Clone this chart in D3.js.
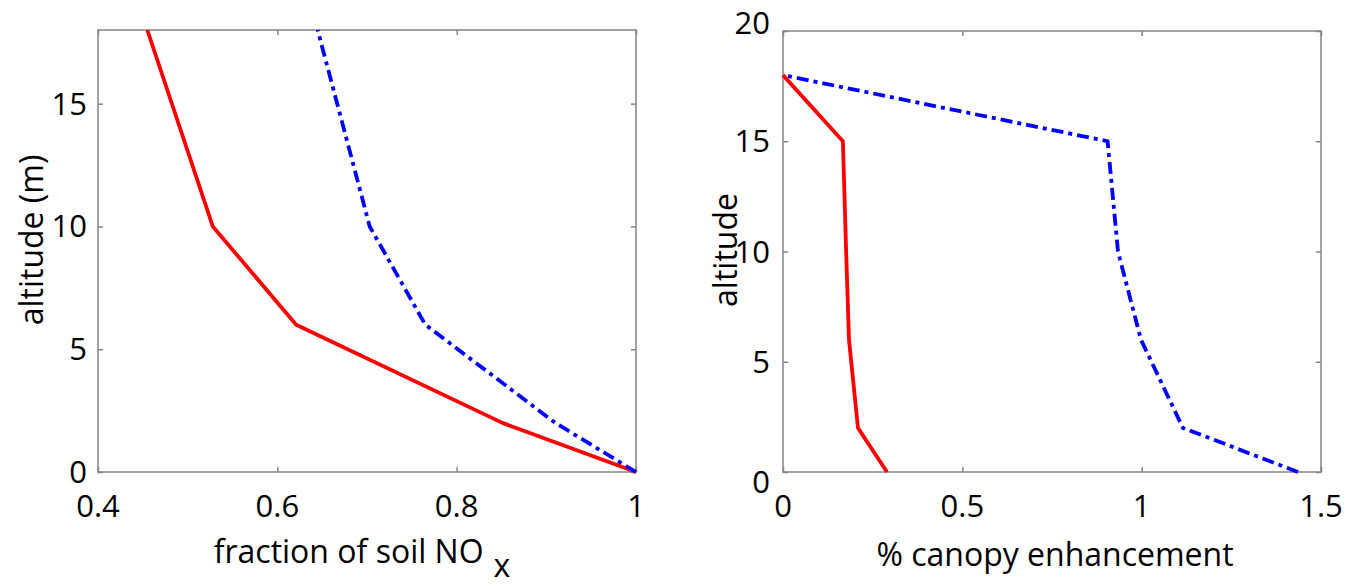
<!DOCTYPE html>
<html><head><meta charset="utf-8">
<script src="https://cdn.jsdelivr.net/npm/d3@7"></script>
<style>body{margin:0;background:#fff}svg{display:block}text{font-family:"Open Sans",sans-serif}</style>
</head><body>
<svg id="c" width="1364" height="587"></svg>
<script>
// Left panel: fraction of soil NOx vs altitude
const leftAltitude = [0, 2, 6, 10, 18];
const leftRed  = [1.0, 0.851, 0.621, 0.528, 0.455];
const leftBlue = [1.0, 0.910, 0.765, 0.703, 0.645];
const leftXTicks = [0.4, 0.6, 0.8, 1];
const leftYTicks = [0, 5, 10, 15];
// Right panel: % canopy enhancement vs altitude
const rightAltitude = [0, 2, 6, 10, 15, 18];
const rightRed  = [0.29, 0.209, 0.184, 0.176, 0.167, 0];
const rightBlue = [1.436, 1.115, 0.998, 0.934, 0.905, 0];
const rightXTicks = [0, 0.5, 1, 1.5];
const rightYTicks = [0, 5, 10, 15, 20];

const svg = d3.select("#c");
const TICK = 31, LAB = 32;

function panel(o){
  const x = d3.scaleLinear().domain(o.xd).range([o.x0, o.x1]);
  const y = d3.scaleLinear().domain(o.yd).range([o.y0, o.y1]);
  const g = svg.append("g");
  g.append("rect").attr("x", o.x0).attr("y", o.y1).attr("width", o.x1-o.x0).attr("height", o.y0-o.y1)
    .attr("fill","none").attr("stroke","#858585").attr("stroke-width",1.5);
  const axes = [
    [d3.axisBottom(x).tickValues(o.xt).tickSize(-5).tickFormat(""), `translate(0,${o.y0})`],
    [d3.axisTop(x).tickValues(o.xt).tickSize(-5).tickFormat(""), `translate(0,${o.y1})`],
    [d3.axisLeft(y).tickValues(o.yt).tickSize(-5).tickFormat(""), `translate(${o.x0},0)`],
    [d3.axisRight(y).tickValues(o.yt).tickSize(-5).tickFormat(""), `translate(${o.x1},0)`]
  ];
  axes.forEach(([a,t])=>{
    const ag = g.append("g").attr("transform",t).call(a);
    ag.select(".domain").remove();
    ag.selectAll("line").attr("stroke","#858585").attr("stroke-width",1.5);
  });
  g.selectAll(".xl").data(o.xt).join("text").attr("x",d=>x(d)).attr("y",o.y0+45)
    .attr("text-anchor","middle").attr("font-size",TICK).attr("fill","#000").text(d=>d3.format("~g")(d));
  g.selectAll(".yl").data(o.yt).join("text").attr("x",o.x0-o.ylOff).attr("y",d=>y(d)+11+(o.yShift?o.yShift(d):0))
    .attr("text-anchor","end").attr("font-size",TICK).attr("fill","#000").text(d=>d);
  const line = (xs)=>d3.line().x((d,i)=>x(xs[i])).y(d=>y(d));
  g.append("path").datum(o.alt).attr("d", line(o.red)).attr("fill","none")
    .attr("stroke","#ff0000").attr("stroke-width",3.8).attr("stroke-linejoin","round");
  g.append("path").datum(o.alt).attr("d", line(o.blue)).attr("fill","none")
    .attr("stroke","#0000ff").attr("stroke-width",3.8).attr("stroke-dasharray","12,5,4,5");
  return {x,y,g};
}

panel({xd:[0.4,1], yd:[0,18], x0:98, x1:636, y0:472, y1:30, xt:leftXTicks, yt:leftYTicks,
  alt:leftAltitude, red:leftRed, blue:leftBlue, ylOff:11});
panel({xd:[0,1.5], yd:[0,20], x0:783, x1:1321, y0:472, y1:31, xt:rightXTicks, yt:rightYTicks,
  alt:rightAltitude, red:rightRed, blue:rightBlue, ylOff:13,
  yShift:d=> d===0?10:(d===20?-8:0)});

const lt = svg.append("text").attr("x",362).attr("y",563).attr("text-anchor","middle")
  .attr("font-size",LAB).attr("fill","#000");
lt.append("tspan").text("fraction of soil NO");
lt.append("tspan").attr("dx",10).attr("dy",14).text("x");
svg.append("text").attr("transform","translate(43,240) rotate(-90)").attr("text-anchor","middle")
  .attr("font-size",LAB).attr("fill","#000").text("altitude (m)");
svg.append("text").attr("x",1055).attr("y",566).attr("text-anchor","middle")
  .attr("font-size",LAB).attr("fill","#000").text("% canopy enhancement");
svg.append("text").attr("transform","translate(737,250) rotate(-90)").attr("text-anchor","middle")
  .attr("font-size",LAB).attr("fill","#000").text("altitude");
</script>
</body></html>
